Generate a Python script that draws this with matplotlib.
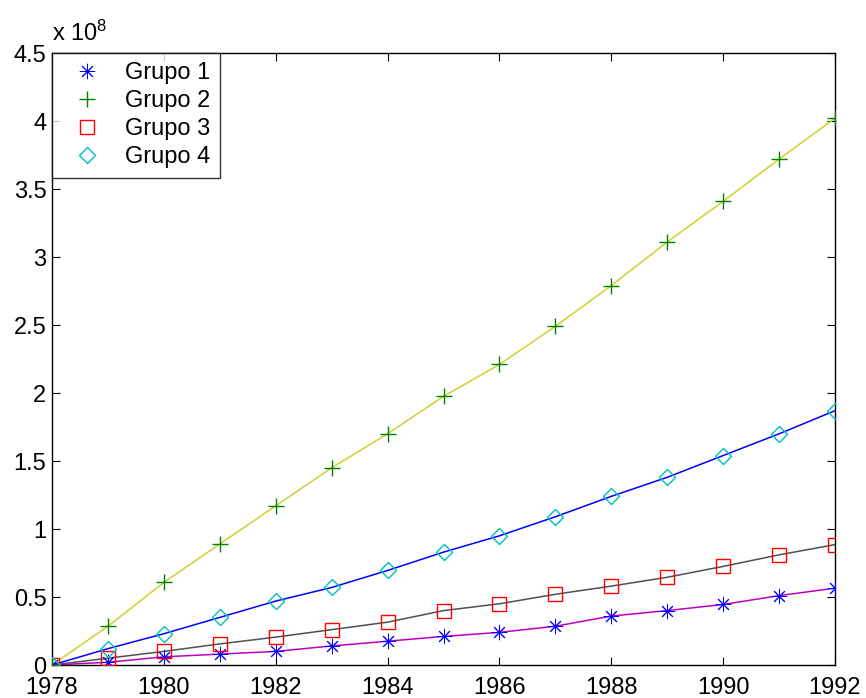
import matplotlib
matplotlib.use("Agg")
import matplotlib.pyplot as plt
from matplotlib.ticker import FuncFormatter

plt.rcParams['font.family'] = ['Liberation Sans', 'DejaVu Sans']
plt.rcParams['mathtext.default'] = 'regular'

years = list(range(1978, 1993))
grupo1 = [0.00, 0.02, 0.06, 0.08, 0.10, 0.14, 0.175, 0.21, 0.24, 0.285, 0.36, 0.40, 0.445, 0.51, 0.565]
grupo2 = [0.00, 0.285, 0.607, 0.89, 1.17, 1.45, 1.70, 1.975, 2.21, 2.49, 2.79, 3.11, 3.41, 3.72, 4.02]
grupo3 = [0.00, 0.05, 0.10, 0.155, 0.205, 0.26, 0.315, 0.40, 0.45, 0.52, 0.58, 0.645, 0.725, 0.81, 0.885]
grupo4 = [0.00, 0.12, 0.23, 0.35, 0.47, 0.57, 0.695, 0.83, 0.95, 1.09, 1.24, 1.38, 1.54, 1.70, 1.87]
scale = 1e8
labels = ['Grupo 1', 'Grupo 2', 'Grupo 3', 'Grupo 4']

fig = plt.figure(figsize=(8.66, 6.98), dpi=100)
ax = fig.add_axes([52/866, 33/698, (835-52)/866, (665-53)/698])

def sc(v):
    return [x * scale for x in v]

# fitted lines
ax.plot(years, sc(grupo2), color='#d0d030', lw=1.1, zorder=2)
ax.plot(years, sc(grupo4), color='#0000ff', lw=1.1, zorder=2)
ax.plot(years, sc(grupo3), color='#505050', lw=1.1, zorder=2)
ax.plot(years, sc(grupo1), color='#c000c0', lw=1.1, zorder=2)

# markers
ms = 11
ast = (8, 2, 0)
h1, = ax.plot(years, sc(grupo1), ls='none', marker=ast, ms=ms, mec='#0000ff', mew=0.7, label=labels[0], zorder=3)
h2, = ax.plot(years, sc(grupo2), ls='none', marker='+', ms=ms + 1, mec='#008000', mew=1.0, label=labels[1], zorder=3)
h3, = ax.plot(years, sc(grupo3), ls='none', marker='s', ms=ms - 0.5, mfc='none', mec='#ff0000', mew=1.0, label=labels[2], zorder=3)
h4, = ax.plot(years, sc(grupo4), ls='none', marker='D', ms=ms - 2.5, mfc='none', mec='#00bfbf', mew=1.0, label=labels[3], zorder=3)

ax.set_xlim(1978, 1992)
ax.set_ylim(0, 4.5e8)
ax.set_xticks(range(1978, 1993, 2))
ax.set_yticks([i * 0.5e8 for i in range(10)])
ax.yaxis.set_major_formatter(FuncFormatter(lambda v, p: '%g' % (v / scale)))
ax.tick_params(direction='in', length=6, width=0.8, labelsize=17, top=True, right=True)
ax.tick_params(axis='y', pad=4)
ax.tick_params(axis='x', pad=9)
for s in ax.spines.values():
    s.set_linewidth(1.0)

ax.text(0.0, 1.012, r'x 10$^{8}$', transform=ax.transAxes, fontsize=17, ha='left', va='bottom')

leg = ax.legend(handles=[h1, h2, h3, h4], loc='upper left', fontsize=17, frameon=True,
                fancybox=False, borderaxespad=0.0, handlelength=2.2, handletextpad=0.5,
                labelspacing=0.25, borderpad=0.4)
leg.get_frame().set_edgecolor('black')
leg.get_frame().set_linewidth(1.0)

fig.savefig('out.png', dpi=100)
